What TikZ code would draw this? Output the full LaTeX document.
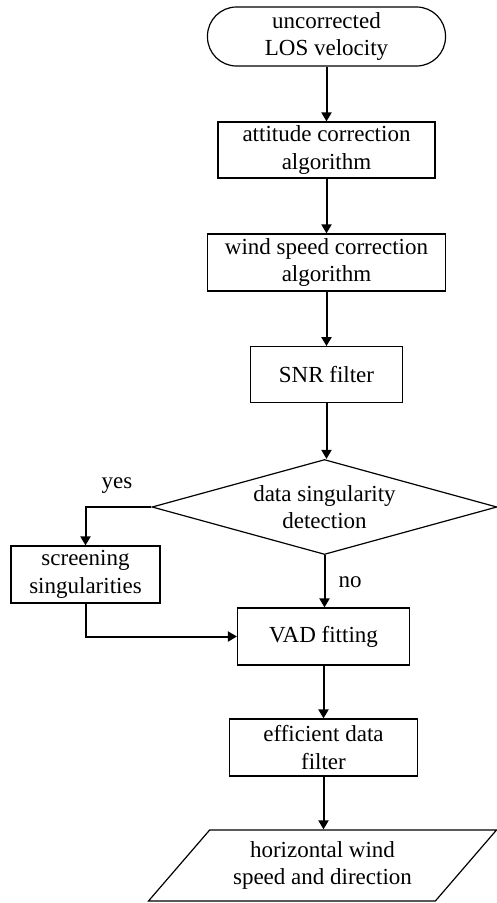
\documentclass[tikz,border=0pt]{standalone}
\usepackage{fontspec}
\setmainfont{Liberation Serif}
\usetikzlibrary{shapes.geometric,arrows.meta}
\begin{document}
\begin{tikzpicture}[x=1pt,y=-1pt,
  every node/.style={font=\fontsize{23}{27.6}\selectfont, align=center, inner sep=0pt},
  box/.style={draw, line width=1.2pt, rectangle},
  term/.style={draw, line width=1.2pt, rectangle, rounded corners=29pt},
  dec/.style={draw, line width=1.2pt, diamond, aspect=3.64},
  io/.style={draw, line width=1.2pt, trapezium, trapezium left angle=45, trapezium right angle=135, trapezium stretches=true},
  arr/.style={line width=2pt, -{Triangle[length=9pt,width=10pt]}},
  lbl/.style={font=\fontsize{23}{27.6}\selectfont}]
\useasboundingbox (0,0) rectangle (497,903);
\node[term, minimum width=238pt, minimum height=59pt] (t) at (326.5,36.5) {uncorrected\\LOS velocity};
\node[box, minimum width=217pt, minimum height=56pt] (a) at (326.5,150) {attitude correction\\algorithm};
\node[box, minimum width=238pt, minimum height=57pt] (w) at (326.5,262.5) {wind speed correction\\algorithm};
\node[box, minimum width=152pt, minimum height=56pt] (s) at (326.5,374.7) {SNR filter};
\node[dec, minimum width=345pt, minimum height=95pt] (d) at (324.5,507) {data singularity\\detection};
\node[box, minimum width=149pt, minimum height=57pt] (sc) at (85.5,574.5) {screening\\singularities};
\node[box, minimum width=172pt, minimum height=57pt] (v) at (323.5,636.5) {VAD fitting};
\node[box, minimum width=188pt, minimum height=57pt] (e) at (323.5,747.5) {efficient data\\filter};
\node[io, minimum width=349pt, minimum height=71pt] (o) at (322.5,865.5) {horizontal wind\\speed and direction};
\draw[arr] (t.south) -- (t.south |- a.north);
\draw[arr] (a.south) -- (a.south |- w.north);
\draw[arr] (w.south) -- (w.south |- s.north);
\draw[arr] (s.south) -- (s.south |- d.north);
\draw[arr] (d.west) -| (sc.north);
\draw[arr] (d.south) -- (d.south |- v.north);
\draw[arr] (sc.south) |- (v.west);
\draw[arr] (v.south) -- (v.south |- e.north);
\draw[arr] (e.south) -- (e.south |- o.north);
\node[lbl] (yes) at (117,486) {yes};
\node[lbl] (no) at (350,582) {no};
\end{tikzpicture}
\end{document}
